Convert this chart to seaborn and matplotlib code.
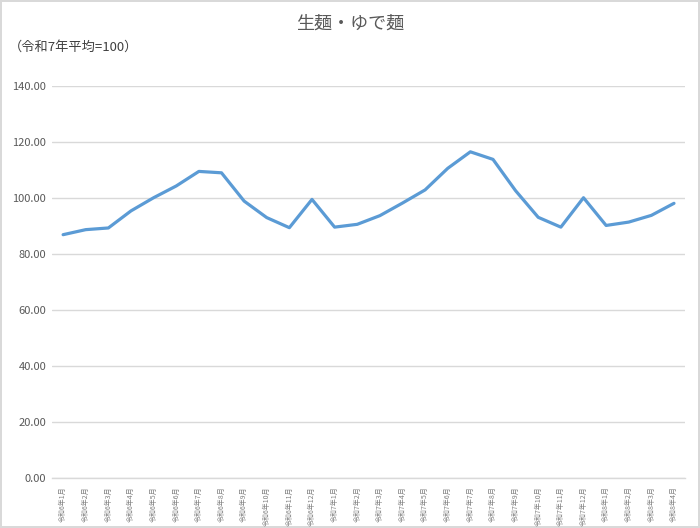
import pandas as pd
import matplotlib
matplotlib.use("Agg")
import matplotlib.pyplot as plt
import seaborn as sns

# 月ラベル（令和6年1月〜令和8年4月）
months = [
    "令和6年1月", "令和6年2月", "令和6年3月", "令和6年4月", "令和6年5月", "令和6年6月",
    "令和6年7月", "令和6年8月", "令和6年9月", "令和6年10月", "令和6年11月", "令和6年12月",
    "令和7年1月", "令和7年2月", "令和7年3月", "令和7年4月", "令和7年5月", "令和7年6月",
    "令和7年7月", "令和7年8月", "令和7年9月", "令和7年10月", "令和7年11月", "令和7年12月",
    "令和8年1月", "令和8年2月", "令和8年3月", "令和8年4月",
]
# 指数（令和7年平均=100）
index_values = [
    86.9, 88.7, 89.3, 95.4, 100.1, 104.3, 109.5, 109.0, 98.9, 93.0, 89.4, 99.5,
    89.6, 90.6, 93.7, 98.2, 102.9, 110.6, 116.5, 113.8, 102.6, 93.1, 89.6, 100.1,
    90.2, 91.4, 93.8, 98.1,
]
y_ticks = [0, 20, 40, 60, 80, 100, 120, 140]

title = "生麺・ゆで麺"
subtitle = "（令和7年平均=100）"

df = pd.DataFrame({"month": months, "value": index_values})

sns.set_theme(style="white")
plt.rcParams["font.family"] = ["Noto Sans CJK JP", "DejaVu Sans"]

fig = plt.figure(figsize=(7, 5.28), dpi=100, edgecolor="#d9d9d9", linewidth=1.5)
ax = fig.add_axes([0.074, 0.0947, 0.905, 0.7424])

sns.lineplot(data=df, x="month", y="value", sort=False, color="#5b9bd5",
             linewidth=2.3, ax=ax)

ax.set_ylim(0, 140)
ax.set_xlim(-0.5, len(months) - 0.5)
ax.set_yticks(y_ticks)
ax.set_yticklabels([f"{v:.2f}" for v in y_ticks], fontsize=8, color="#595959")
ax.yaxis.grid(True, color="#d9d9d9", linewidth=1)
ax.set_axisbelow(True)
ax.set_xticks(range(len(months)))
ax.set_xticklabels(months, rotation=90, fontsize=5, color="#7f7f7f")
ax.tick_params(axis="both", length=0, pad=4)
ax.tick_params(axis="x", pad=6)
ax.set_xlabel("")
ax.set_ylabel("")
for side in ["top", "right", "left"]:
    ax.spines[side].set_visible(False)
ax.spines["bottom"].set_color("#d9d9d9")
ax.spines["bottom"].set_linewidth(1)

fig.text(0.5, 0.955, title, ha="center", va="center", fontsize=13, color="#595959")
fig.text(0.012, 0.91, subtitle, ha="left", va="center", fontsize=9.5, color="#404040")

fig.savefig("out.png", dpi=100)
